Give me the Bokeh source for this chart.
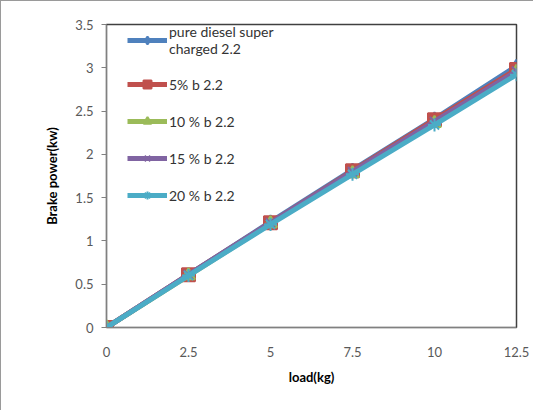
from bokeh.plotting import figure
from bokeh.models import Range1d, FixedTicker, Legend, LegendItem
from bokeh.embed import file_html
from bokeh.resources import INLINE

load = [0, 2.5, 5, 7.5, 10, 12.5]
pure_diesel = [0, 0.61, 1.22, 1.82, 2.41, 3.02]
b5 = [0, 0.61, 1.21, 1.81, 2.40, 2.98]
b10 = [0, 0.60, 1.20, 1.78, 2.36, 2.95]
b15 = [0, 0.61, 1.21, 1.80, 2.38, 2.96]
b20 = [0, 0.60, 1.19, 1.77, 2.34, 2.92]
names = ["pure diesel super\ncharged 2.2", "5% b 2.2", "10 % b 2.2", "15 % b 2.2", "20 % b 2.2"]
colors = ["#4F81BD", "#C0504D", "#9BBB59", "#8064A2", "#4BACC6"]
markers = ["diamond", "square", "triangle", "x", "asterisk"]
series = [pure_diesel, b5, b10, b15, b20]
y_ticks = [0, 0.5, 1, 1.5, 2, 2.5, 3, 3.5]
x_ticks = [0, 2.5, 5, 7.5, 10, 12.5]

FONT = "Lato"

p = figure(width=533, height=410, output_backend="svg", toolbar_location=None,
           x_range=Range1d(0, 12.5), y_range=Range1d(0, 3.5),
           min_border_left=105, min_border_right=18, min_border_top=23, min_border_bottom=84)
p.styles = {"border-left": "1px solid #9a9a9a", "border-top": "1px solid #9a9a9a"}
p.grid.visible = False
p.outline_line_color = "#404040"
p.outline_line_width = 1.5

items = []
for name, ys, c, m in zip(names, series, colors, markers):
    lr = p.line(load, ys, line_color=c, line_width=5)
    mr = p.scatter(load, ys, marker=m, size=13, fill_color=c, line_color=c, line_width=2)
    items.append(LegendItem(label=name, renderers=[lr, mr]))

legend = Legend(items=items, location=(21, 122), background_fill_alpha=0, border_line_alpha=0,
                label_text_font=FONT, label_text_font_size="14px", label_text_color="#333333",
                glyph_width=40, glyph_height=20, label_height=20, spacing=17,
                label_standoff=2, margin=0, padding=0)
p.add_layout(legend)

for ax in (p.xaxis[0], p.yaxis[0]):
    ax.axis_line_color = "#808080"
    ax.axis_line_width = 1
    ax.major_label_text_font = FONT
    ax.major_label_text_font_size = "13px"
    ax.major_label_text_color = "#595959"
    ax.axis_label_text_font = FONT
    ax.axis_label_text_font_size = "13px"
    ax.axis_label_text_font_style = "bold"
    ax.axis_label_text_color = "#000000"
    ax.minor_tick_line_color = None

p.yaxis[0].ticker = FixedTicker(ticks=y_ticks)
p.yaxis[0].major_tick_in = 0
p.yaxis[0].major_tick_out = 5
p.yaxis[0].major_tick_line_color = "#808080"
p.yaxis[0].major_label_standoff = 8
p.yaxis[0].axis_label = "Brake power(kw)"
p.yaxis[0].axis_label_standoff = 12

p.xaxis[0].ticker = FixedTicker(ticks=x_ticks)
p.xaxis[0].major_tick_line_color = None
p.xaxis[0].major_label_standoff = 13
p.xaxis[0].axis_label = "load(kg)"
p.xaxis[0].axis_label_standoff = 9

open("out.html", "w").write(file_html(p, INLINE))
